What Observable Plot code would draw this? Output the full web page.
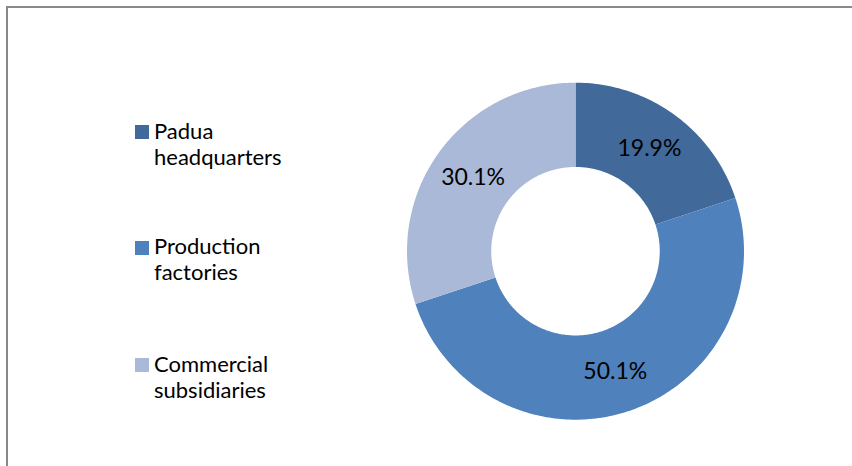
<!DOCTYPE html>
<html>
<head>
<meta charset="utf-8">
<script src="https://cdn.jsdelivr.net/npm/d3@7"></script>
<script src="https://cdn.jsdelivr.net/npm/@observablehq/plot@0.6"></script>
<style>
  html, body { margin: 0; padding: 0; background: #fff; overflow: hidden; }
  #wrap { position: relative; width: 852px; height: 466px; overflow: hidden; font-family: Lato, "Open Sans", sans-serif; }
  #frame { position: absolute; left: 6px; top: 6px; width: 900px; height: 500px; border-left: 2px solid #898989; border-top: 2px solid #898989; box-sizing: border-box; }
  #chart { position: absolute; left: 0; top: 0; }
  .lg { position: absolute; left: 135px; }
  .lg .sw { position: absolute; left: 0; width: 14px; height: 14px; }
  .lg .tx { position: absolute; left: 19px; top: 0; font-size: 22px; line-height: 26px; color: #000; white-space: pre; }
</style>
</head>
<body>
<div id="wrap">
  <div id="frame"></div>
  <div id="chart"></div>
</div>
<script>
// ---- data ----
const categories = ["Padua headquarters", "Production factories", "Commercial subsidiaries"];
const legendLabels = ["Padua\nheadquarters", "Production\nfactories", "Commercial\nsubsidiaries"];
const values = [19.9, 50.1, 30.1];
const colors = ["#416A9B", "#4F81BD", "#AAB9D7"];

// ---- layout ----
const W = 852, H = 466;
const cx = 575, cy = 250.7, R = 168.5, innerRatio = 0.5;

const pie = d3.pie().sort(null).value(d => d.value)(categories.map((c, i) => ({category: c, value: values[i]})));

// build slice polygons in unit coordinates (y up), angles clockwise from 12 o'clock
const steps = 180;
const polys = [];
pie.forEach(p => {
  const c = p.data.category;
  const n = Math.max(2, Math.ceil(steps * (p.endAngle - p.startAngle) / Math.PI));
  for (let k = 0; k <= n; k++) {
    const a = p.startAngle + (p.endAngle - p.startAngle) * k / n;
    polys.push({category: c, x: Math.sin(a), y: Math.cos(a)});
  }
  for (let k = n; k >= 0; k--) {
    const a = p.startAngle + (p.endAngle - p.startAngle) * k / n;
    polys.push({category: c, x: innerRatio * Math.sin(a), y: innerRatio * Math.cos(a)});
  }
});

const midR = (1 + innerRatio) / 2;
const labels = pie.map(p => {
  const a = (p.startAngle + p.endAngle) / 2;
  return {category: p.data.category, value: p.data.value, x: midR * Math.sin(a), y: midR * Math.cos(a)};
});

const chart = Plot.plot({
  width: W,
  height: H,
  margin: 0,
  x: {domain: [-cx / R, (W - cx) / R], axis: null},
  y: {domain: [-(H - cy) / R, cy / R], axis: null},
  color: {domain: categories, range: colors},
  style: {background: "transparent"},
  marks: [
    Plot.line(polys, {x: "x", y: "y", z: "category", fill: "category", stroke: "none", curve: "linear"}),
    Plot.text(labels, {x: "x", y: "y", text: d => d.value.toFixed(1) + "%", fontSize: 23, fontFamily: "Lato, sans-serif", fill: "#000", textAnchor: "middle", lineAnchor: "middle"})
  ]
});
document.getElementById("chart").appendChild(chart);

// legend
const swTops = [125, 240.5, 358];
const wrap = document.getElementById("wrap");
categories.forEach((c, i) => {
  const e = document.createElement("div");
  e.className = "lg";
  e.style.top = swTops[i] + "px";
  const sw = document.createElement("div");
  sw.className = "sw";
  sw.style.top = "0px";
  sw.style.background = colors[i];
  const tx = document.createElement("div");
  tx.className = "tx";
  tx.style.top = "-7.5px";
  tx.textContent = legendLabels[i];
  e.appendChild(sw);
  e.appendChild(tx);
  wrap.appendChild(e);
});
</script>
</body>
</html>
